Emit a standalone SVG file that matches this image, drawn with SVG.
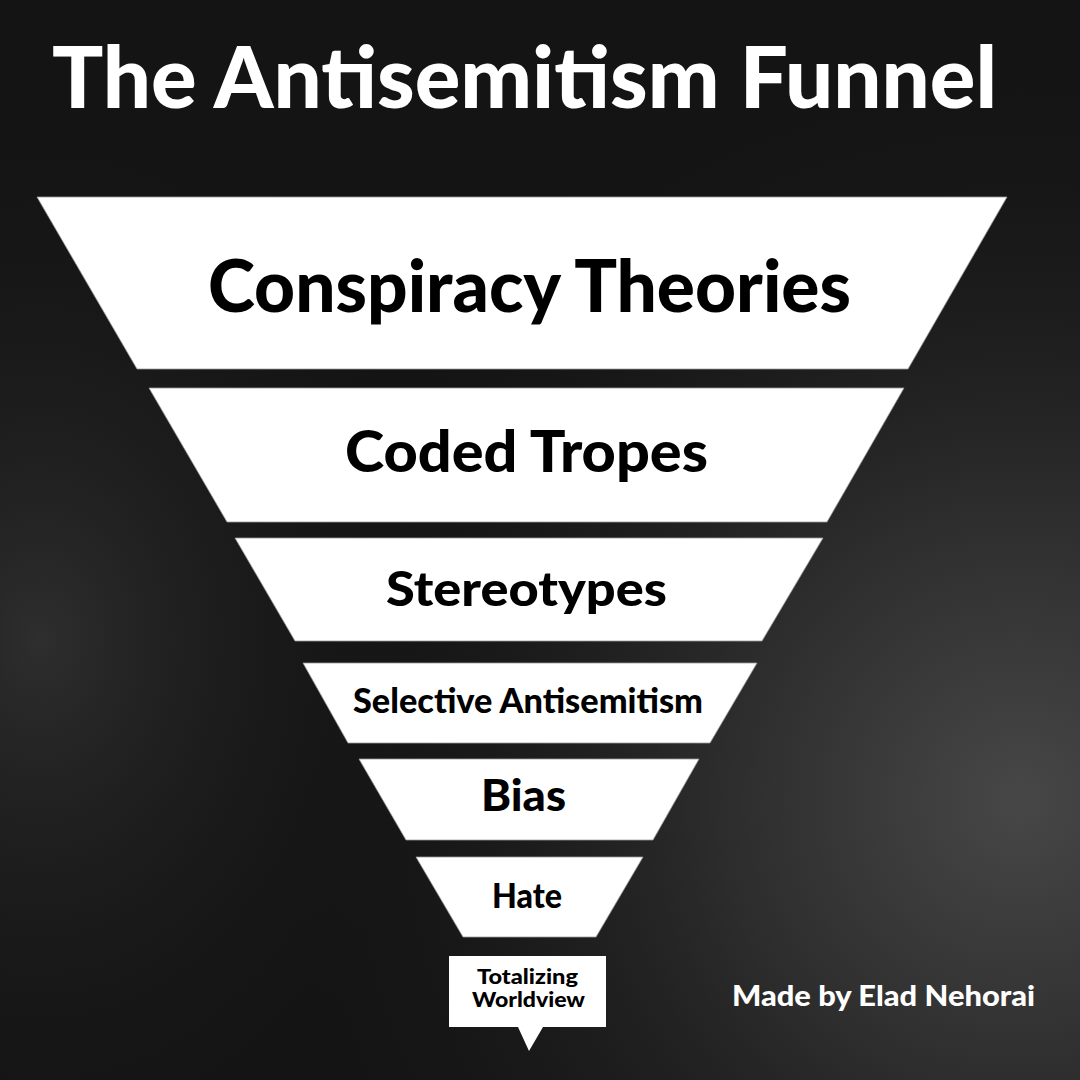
<svg xmlns="http://www.w3.org/2000/svg" width="1080" height="1080" viewBox="0 0 1080 1080">
<defs>
<radialGradient id="g1" cx="1020" cy="800" r="760" gradientUnits="userSpaceOnUse">
<stop offset="0" stop-color="#474747"/>
<stop offset="0.4" stop-color="#2c2c2c"/>
<stop offset="1" stop-color="#151515" stop-opacity="0"/>
</radialGradient>
<radialGradient id="g2" cx="40" cy="640" r="420" gradientUnits="userSpaceOnUse" gradientTransform="translate(40 640) scale(1 1.3) translate(-40 -640)">
<stop offset="0" stop-color="#2e2e2e"/>
<stop offset="1" stop-color="#151515" stop-opacity="0"/>
</radialGradient>
</defs>
<style>
.seg{fill:#ffffff;stroke:#9a9a9a;stroke-width:0.8}
.lbl{font-family:"Lato","Liberation Sans",sans-serif;font-weight:900;fill:#000;text-anchor:middle}
.wt{font-family:"Lato","Liberation Sans",sans-serif;font-weight:900;fill:#fff}
</style>
<rect width="1080" height="1080" fill="#141414"/>
<rect width="1080" height="1080" fill="url(#g2)"/>
<rect width="1080" height="1080" fill="url(#g1)"/>
<text class="wt" x="52" y="108" font-size="86" textLength="945" lengthAdjust="spacingAndGlyphs">The Antisemitism Funnel</text>
<g id="n1"><polygon class="seg" points="37,197 1007,197 908,369 137,369"/><text class="lbl" x="529.5" y="312" font-size="72" textLength="643" lengthAdjust="spacingAndGlyphs">Conspiracy Theories</text></g>
<g id="n2"><polygon class="seg" points="149,388 904,388 827,522 227,522"/><text class="lbl" x="526.5" y="472" font-size="58" textLength="363" lengthAdjust="spacingAndGlyphs">Coded Tropes</text></g>
<g id="n3"><polygon class="seg" points="235,538 823,538 762,641 295,641"/><text class="lbl" x="526.5" y="606" font-size="48" textLength="281" lengthAdjust="spacingAndGlyphs">Stereotypes</text></g>
<g id="n4"><polygon class="seg" points="303,663 757,663 710,743 348,743"/><text class="lbl" x="528" y="713" font-size="34" textLength="350" lengthAdjust="spacingAndGlyphs">Selective Antisemitism</text></g>
<g id="n5"><polygon class="seg" points="359,759 699,759 653,840 406,840"/><text class="lbl" x="523.5" y="811" font-size="44" textLength="85" lengthAdjust="spacingAndGlyphs">Bias</text></g>
<g id="n6"><polygon class="seg" points="416,857 643,857 596,937 463,937"/><text class="lbl" x="527" y="908" font-size="34" textLength="70" lengthAdjust="spacingAndGlyphs">Hate</text></g>
<g id="n7"><polygon fill="#fff" points="449,956 606,956 606,1027 543,1027 529,1051 518,1027 449,1027"/><text class="lbl" x="527.5" y="984" font-size="20" textLength="101" lengthAdjust="spacingAndGlyphs">Totalizing</text><text class="lbl" x="528.5" y="1007" font-size="20" textLength="113" lengthAdjust="spacingAndGlyphs">Worldview</text></g>
<g id="connectors"></g>
<text class="wt" x="732" y="1006" font-size="28" textLength="303" lengthAdjust="spacingAndGlyphs">Made by Elad Nehorai</text>
</svg>
